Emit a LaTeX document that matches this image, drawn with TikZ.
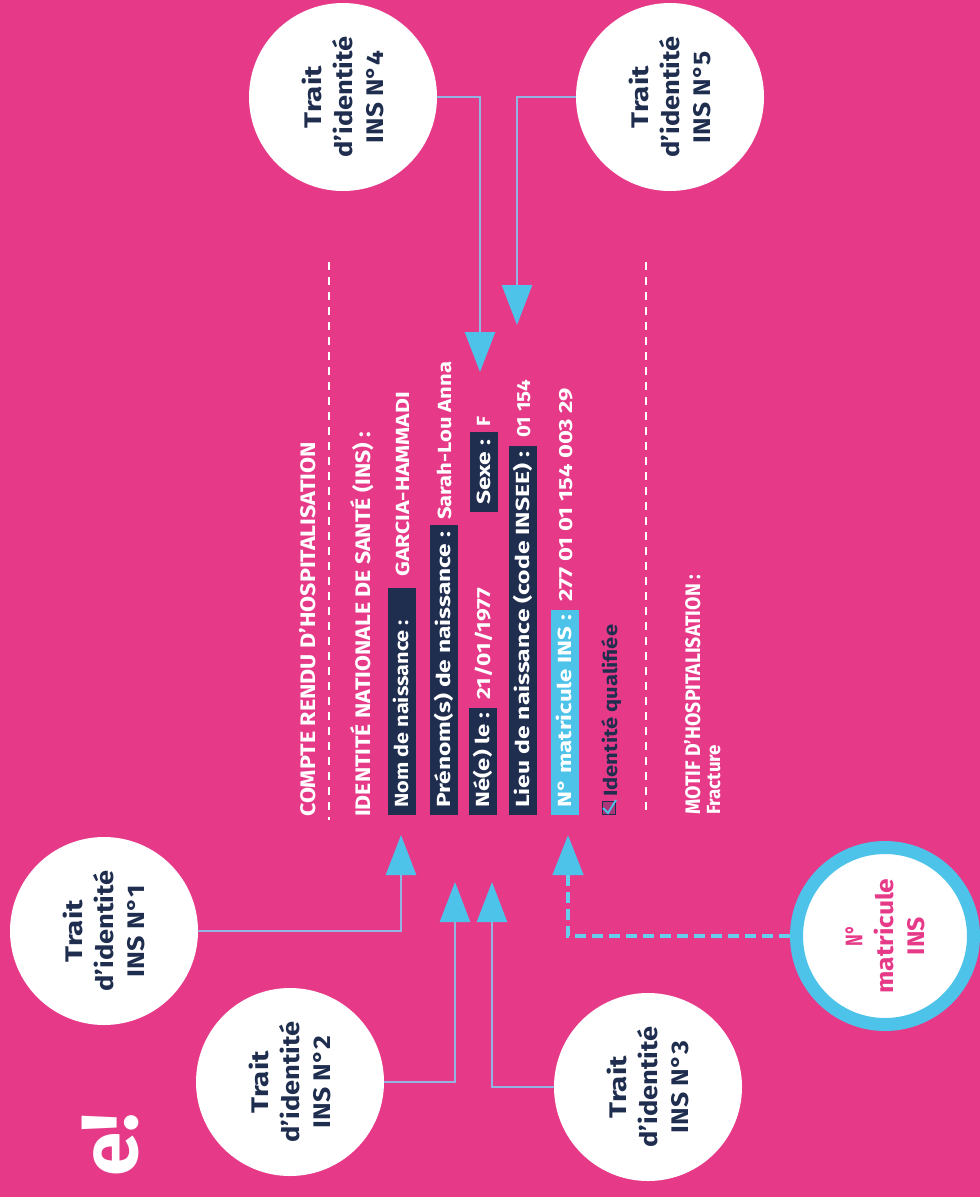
\documentclass[tikz,border=0pt]{standalone}
\usepackage{fontspec}
\setmainfont{Fira Sans}
\usetikzlibrary{arrows.meta}
\definecolor{pinkbg}{RGB}{230,58,137}
\definecolor{navy}{RGB}{31,45,78}
\definecolor{cyanA}{RGB}{77,195,233}
\definecolor{linecol}{RGB}{145,180,226}
\newlength\fwlen
\newcommand\fw[2]{\settowidth\fwlen{#2}\pgfmathsetmacro\fwf{#1/\fwlen}\scalebox{\fwf}[1]{#2}}
\tikzset{
  txt/.style={rotate=90, inner sep=0pt, anchor=base west, text=white, font=\bfseries\fontsize{19}{22}\selectfont},
  head/.style={txt, font=\bfseries\fontsize{21}{24}\selectfont},
  lbox/.style={rotate=90, fill=navy, inner sep=0pt, anchor=west, minimum height=28pt},
  circ/.style={circle, fill=white, minimum size=188pt, inner sep=0pt, rotate=90, align=center, text=navy, font=\bfseries\fontsize{24}{31}\selectfont},
  conn/.style={draw=linecol, line width=2.5pt, -{Triangle[length=40pt,width=30pt,color=cyanA]}},
  dconn/.style={draw=cyanA!85!white, line width=4.5pt, dash pattern=on 11pt off 6pt, -{Triangle[length=40pt,width=30pt,color=cyanA]}},
  wdash/.style={draw=white, line width=2.5pt, dash pattern=on 8pt off 7pt}
}
\begin{document}
\begin{tikzpicture}[x=1pt,y=-1pt]
\fill[pinkbg] (0,0) rectangle (980,1197);
\useasboundingbox (0,0) rectangle (980,1197);
\begin{scope}
\clip (0,0) rectangle (980,1197);
\node[txt, anchor=base east, font=\bfseries\fontsize{80}{80}\selectfont] (title) at (137,1113) {e!};
\end{scope}

% dashed separators
\coordinate (s1a) at (329,262); \coordinate (s1b) at (329,820);
\coordinate (s2a) at (646,262); \coordinate (s2b) at (646,815);
\draw[wdash] (s1a) -- (s1b);
\draw[wdash] (s2a) -- (s2b);

% headings
\node[head] (h1) at (315,817) {\fw{375pt}{COMPTE RENDU D’HOSPITALISATION}};
\node[head] (h2) at (370,817) {\fw{385pt}{IDENTITÉ NATIONALE DE SANTÉ (INS) :}};

% boxes
\node[lbox, minimum width=227pt] (b1) at (402,815) {};
\node[lbox, minimum width=290pt] (b2) at (444,815) {};
\node[lbox, minimum width=107pt] (b3) at (483,815) {};
\node[lbox, minimum width=80pt] (bsx) at (484,512) {};
\node[lbox, minimum width=369pt] (b4) at (523,815) {};
\node[lbox, minimum width=205pt, fill=cyanA] (b5) at (565,815) {};

% labels
\node[txt] (l1) at (408,808) {\fw{188pt}{Nom de naissance :}};
\node[txt] (l2) at (450,808) {\fw{276pt}{Prénom(s) de naissance :}};
\node[txt] (l3) at (489,808) {\fw{95pt}{Né(e) le :}};
\node[txt] (lsx) at (490,505) {\fw{65pt}{Sexe :}};
\node[txt] (l4) at (529,808) {\fw{356pt}{Lieu de naissance (code INSEE) :}};
\node[txt] (l5) at (571,808) {\fw{193pt}{N° matricule INS :}};

% values
\node[txt] (v1) at (409,577) {\fw{185pt}{GARCIA-HAMMADI}};
\node[txt] (v2) at (451,520) {\fw{158pt}{Sarah-Lou Anna}};
\node[txt] (v3) at (490,700) {\fw{112pt}{21/01/1977}};
\node[txt] (vF) at (490,427) {\fw{10pt}{F}};
\node[txt] (v4) at (530,438) {\fw{58pt}{01 154}};
\node[txt] (v5) at (572,602) {\fw{214pt}{277 01 01 154 003 29}};

% checkbox
\node[draw=navy, line width=1.5pt, fill=pinkbg!70!navy, minimum size=13pt, inner sep=0pt] (cb) at (609,808) {};
\draw[cyanA, line width=1.8pt] (603,808) -- (608,813) -- (616,800);
\node[txt, text=navy] (q) at (617,797) {\fw{172pt}{Identité qualifiée}};

% motif
\node[head] (m1) at (700,815) {\fw{240pt}{MOTIF D’HOSPITALISATION :}};
\node[txt] (m2) at (720,815) {\fw{70pt}{Fracture}};

% circles
\node[circ] (c1) at (104,931) {\fw{62pt}{Trait}\\\fw{121pt}{d’identité}\\\fw{92pt}{INS N°1}};
\node[circ] (c2) at (290,1082) {\fw{62pt}{Trait}\\\fw{121pt}{d’identité}\\\fw{92pt}{INS N°2}};
\node[circ] (c3) at (648,1087) {\fw{62pt}{Trait}\\\fw{121pt}{d’identité}\\\fw{92pt}{INS N°3}};
\node[circ] (c4) at (343,97) {\fw{62pt}{Trait}\\\fw{121pt}{d’identité}\\\fw{92pt}{INS N°4}};
\node[circ] (c5) at (670,97) {\fw{62pt}{Trait}\\\fw{121pt}{d’identité}\\\fw{92pt}{INS N°5}};
\node[circ, draw=cyanA, line width=13pt, minimum size=177pt, text=pinkbg] (cm) at (885,936) {\fw{21pt}{N°}\\\fw{115pt}{matricule}\\\fw{38pt}{INS}};

% arrow targets
\coordinate (a1) at (401,835);
\coordinate (a2) at (455,882);
\coordinate (a3) at (492,882);
\coordinate (a4) at (480,372);
\coordinate (a5) at (517,325);
\coordinate (am) at (568,835);

\draw[conn] (c1) -| (a1);
\draw[conn] (c2) -| (a2);
\draw[conn] (c3) -| (a3);
\draw[conn] (c4) -| (a4);
\draw[conn] (c5) -| (a5);
\draw[dconn] (cm) -| (am);
\end{tikzpicture}
\end{document}
